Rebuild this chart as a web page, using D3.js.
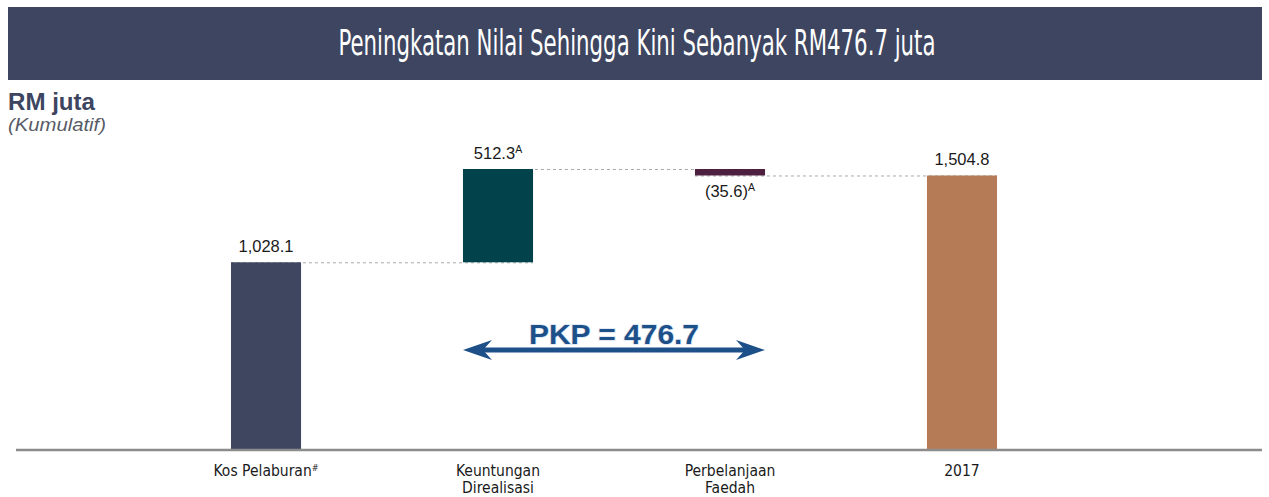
<!DOCTYPE html>
<html>
<head>
<meta charset="utf-8">
<script src="https://cdn.jsdelivr.net/npm/d3@7"></script>
<style>
  html, body { margin: 0; padding: 0; background: #fff; }
  svg { display: block; }
</style>
</head>
<body>
<div id="chart"></div>
<script>
// waterfall: RM juta (kumulatif)
const categories = ["Kos Pelaburan", "Keuntungan Direalisasi", "Perbelanjaan Faedah", "2017"];
const categoryLines = [["Kos Pelaburan#"], ["Keuntungan", "Direalisasi"], ["Perbelanjaan", "Faedah"], ["2017"]];
const values = [1028.1, 512.3, -35.6, 1504.8];
const kinds = ["total", "delta", "delta", "total"];
const valueLabels = ["1,028.1", "512.3", "(35.6)", "1,504.8"];
const valueNotes = ["", "A", "A", ""];
const pkpValue = 476.7;
const titleText = "Peningkatan Nilai Sehingga Kini Sebanyak RM476.7 juta";

(function () {
  const width = 1269;
  const height = 497;
  const colors = ["#3e4660", "#02434b", "#4e2040", "#b47b56"];
  const headerColor = "#3d4560";
  const arrowColor = "#1d5089";
  const labelFont = "'Liberation Sans Narrow', 'DejaVu Sans Condensed', sans-serif";

  // running totals for the floating bars
  let running = 0;
  const bars = values.map((v, i) => {
    let start, end;
    if (kinds[i] === "total") {
      start = 0;
      end = v;
      running = v;
    } else {
      start = running;
      end = running + v;
      running = end;
    }
    return { cat: categories[i], lines: categoryLines[i], value: v, start, end, label: valueLabels[i], note: valueNotes[i], color: colors[i] };
  });

  const svg = d3.select("#chart").append("svg")
    .attr("width", width)
    .attr("height", height);

  // header band (title glyphs stretched tall like the condensed display face)
  svg.append("rect")
    .attr("x", 8).attr("y", 7)
    .attr("width", 1254).attr("height", 73)
    .attr("fill", headerColor);
  svg.append("text")
    .attr("transform", "translate(637,55) scale(1,1.45)")
    .attr("text-anchor", "middle")
    .attr("textLength", 597)
    .attr("lengthAdjust", "spacingAndGlyphs")
    .attr("fill", "#fff")
    .attr("font-family", "'DejaVu Sans Condensed', 'DejaVu Sans', sans-serif")
    .attr("font-size", 25)
    .text(titleText);

  // unit label
  svg.append("text")
    .attr("x", 8).attr("y", 110)
    .attr("fill", "#3d4560")
    .attr("font-family", "'Liberation Sans', Arial, sans-serif")
    .attr("font-weight", 700)
    .attr("font-size", 23)
    .attr("textLength", 87)
    .attr("lengthAdjust", "spacingAndGlyphs")
    .text("RM juta");
  svg.append("text")
    .attr("x", 8).attr("y", 131)
    .attr("fill", "#585c66")
    .attr("font-family", "'Liberation Sans', Arial, sans-serif")
    .attr("font-style", "italic")
    .attr("font-size", 18)
    .attr("textLength", 98)
    .attr("lengthAdjust", "spacingAndGlyphs")
    .text("(Kumulatif)");

  const x = d3.scaleBand()
    .domain(categories)
    .range([115, 1113])
    .paddingInner(0.698)
    .paddingOuter(0.5);

  const yMax = d3.max(bars, (d) => Math.max(d.start, d.end));
  const y = d3.scaleLinear()
    .domain([0, yMax])
    .range([449.5, 169]);

  // dashed connectors between bars
  const connectors = bars.slice(0, -1).map((d, i) => ({ from: d, to: bars[i + 1], level: d.end }));
  svg.append("g")
    .selectAll("line")
    .data(connectors)
    .join("line")
    .attr("x1", (d) => x(d.from.cat))
    .attr("x2", (d) => x(d.to.cat) + x.bandwidth())
    .attr("y1", (d) => y(d.level) + 0.5)
    .attr("y2", (d) => y(d.level) + 0.5)
    .attr("stroke", "#a9a9a9")
    .attr("stroke-width", 1)
    .attr("stroke-dasharray", "3 3");

  svg.append("g")
    .selectAll("rect")
    .data(bars)
    .join("rect")
    .attr("x", (d) => x(d.cat))
    .attr("width", x.bandwidth())
    .attr("y", (d) => y(Math.max(d.start, d.end)))
    .attr("height", (d) => Math.abs(y(d.start) - y(d.end)))
    .attr("fill", (d) => d.color);

  // baseline
  svg.append("line")
    .attr("x1", 16).attr("x2", 1262)
    .attr("y1", y(0) + 0.5).attr("y2", y(0) + 0.5)
    .attr("stroke", "#8c8c8c")
    .attr("stroke-width", 2.6);

  // value labels (negative goes below the bar)
  const valueText = svg.append("g")
    .selectAll("text")
    .data(bars)
    .join("text")
    .attr("x", (d) => x(d.cat) + x.bandwidth() / 2)
    .attr("y", (d) => d.value < 0 ? y(Math.min(d.start, d.end)) + 22 : y(Math.max(d.start, d.end)) - 10)
    .attr("text-anchor", "middle")
    .attr("fill", "#1a1a1a")
    .attr("font-family", "'Liberation Sans', Arial, sans-serif")
    .attr("font-size", 16.5);
  valueText.append("tspan").text((d) => d.label);
  valueText.filter((d) => d.note)
    .append("tspan")
    .attr("dy", -6)
    .attr("font-size", 10.5)
    .text((d) => d.note);

  // category labels
  const catText = svg.append("g")
    .selectAll("text")
    .data(bars)
    .join("text")
    .attr("x", (d) => x(d.cat) + x.bandwidth() / 2)
    .attr("y", 476)
    .attr("text-anchor", "middle")
    .attr("fill", "#1a1a1a")
    .attr("font-family", labelFont)
    .attr("font-size", 15.5);
  catText.each(function (d) {
    const t = d3.select(this);
    d.lines.forEach((line, i) => {
      const hash = line.endsWith("#");
      t.append("tspan")
        .attr("x", x(d.cat) + x.bandwidth() / 2)
        .attr("dy", i === 0 ? 0 : 16.5)
        .text(hash ? line.slice(0, -1) : line);
      if (hash) {
        t.append("tspan").attr("dy", -5).attr("font-size", 9).text("#");
      }
    });
  });

  // PKP double arrow spanning the gain and interest bars
  const ax0 = x(categories[1]);
  const ax1 = x(categories[2]) + x.bandwidth();
  const ay = 350;
  const head = (tipX, dir) => {
    const p = d3.path();
    p.moveTo(tipX, ay);
    p.lineTo(tipX + dir * 29, ay - 10);
    p.lineTo(tipX + dir * 20, ay);
    p.lineTo(tipX + dir * 29, ay + 10);
    p.closePath();
    return p.toString();
  };
  svg.append("line")
    .attr("x1", ax0 + 15).attr("x2", ax1 - 15)
    .attr("y1", ay).attr("y2", ay)
    .attr("stroke", arrowColor)
    .attr("stroke-width", 5);
  svg.append("path").attr("d", head(ax0, 1)).attr("fill", arrowColor);
  svg.append("path").attr("d", head(ax1, -1)).attr("fill", arrowColor);

  svg.append("text")
    .attr("x", (ax0 + ax1) / 2)
    .attr("y", 344)
    .attr("text-anchor", "middle")
    .attr("fill", arrowColor)
    .attr("stroke", "#dbe6f2")
    .attr("stroke-width", 1.5)
    .attr("paint-order", "stroke")
    .attr("font-family", "'Liberation Sans', Arial, sans-serif")
    .attr("font-weight", 700)
    .attr("font-size", 27)
    .attr("textLength", 170)
    .attr("lengthAdjust", "spacingAndGlyphs")
    .text(`PKP = ${pkpValue}`);
})();
</script>
</body>
</html>
